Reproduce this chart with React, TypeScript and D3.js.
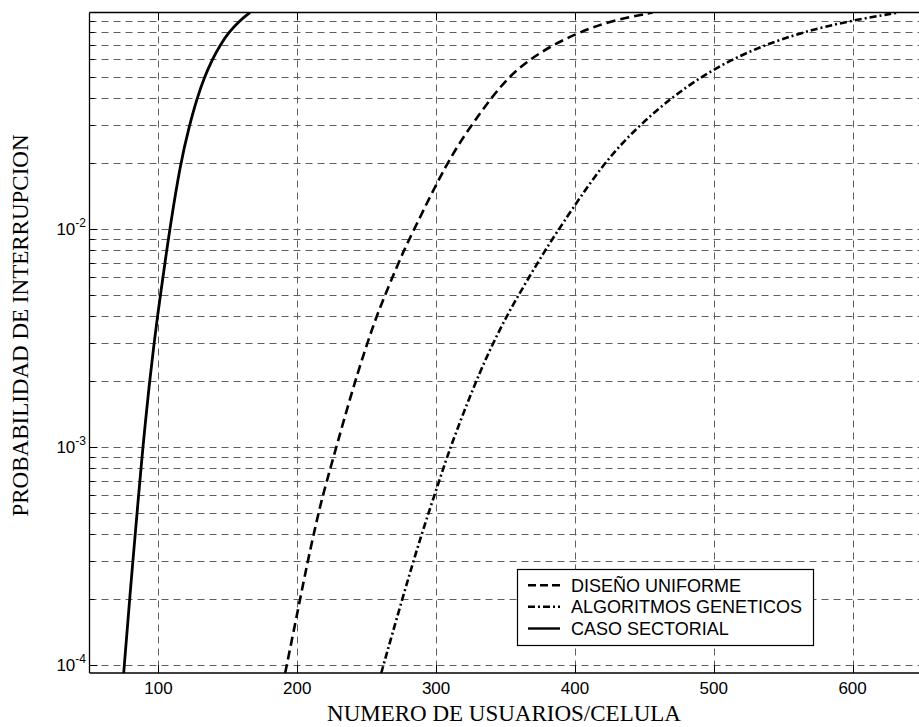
import React from "react";
import * as d3 from "d3";

const xTicks = [100, 200, 300, 400, 500, 600];
const yMajor = [1e-4, 1e-3, 1e-2];
const yExpLabels = ["-4", "-3", "-2"];

const sectorialX = [75, 79.2, 85.7, 88.8, 93.6, 96.9, 99.4, 101.5, 106, 108.2, 115.8, 122.4, 127.9, 133.3, 138.8, 144.5, 150.8, 158.2, 166];
const sectorialY = [9.2e-5, 2e-4, 6e-4, 1e-3, 2e-3, 3e-3, 4e-3, 5e-3, 8e-3, 1e-2, 2e-2, 3e-2, 4e-2, 5e-2, 6e-2, 7e-2, 8e-2, 9e-2, 0.0985];

const uniformeX = [191.3, 202, 207.6, 211.9, 215.4, 218.4, 228.1, 241.5, 250.5, 257.2, 266.5, 276.8, 284.3, 307.3, 325.4, 339.8, 352.5, 367.4, 384.2, 403.4, 425, 456];
const uniformeY = [9.2e-5, 2e-4, 3e-4, 4e-4, 5e-4, 6e-4, 1e-3, 2e-3, 3e-3, 4e-3, 5.6e-3, 8e-3, 1e-2, 2e-2, 3e-2, 4e-2, 5e-2, 6e-2, 7e-2, 8e-2, 9e-2, 0.0985];

const geneticosX = [260.5, 275.5, 289.5, 302.3, 310.2, 328.5, 341, 351, 359.5, 378.5, 388.5, 420, 446.5, 469.5, 491, 513, 537, 564, 597, 633];
const geneticosY = [9.2e-5, 2e-4, 4e-4, 7e-4, 1e-3, 2e-3, 3e-3, 4e-3, 5e-3, 8e-3, 1e-2, 2e-2, 3e-2, 4e-2, 5e-2, 6e-2, 7e-2, 8e-2, 9e-2, 0.0985];

const legendLabels = ["DISEÑO UNIFORME", "ALGORITMOS GENETICOS", "CASO SECTORIAL"];

const W = 919;
const H = 727;
const L = 89.5;
const T = 12.5;
const B = 673;
const R = 919;

export default function App() {
  const x = d3.scaleLinear().domain([50, 650]).range([89, 922]);
  const y = d3.scaleLog().domain([9.2e-5, 0.0985]).range([B, T]);

  const yGrid: number[] = [];
  for (let e = -4; e <= -2; e++) {
    for (let k = 1; k <= 9; k++) {
      const v = k * Math.pow(10, e);
      if (v >= 9.2e-5 && v <= 0.0985) yGrid.push(v);
    }
  }

  const line = d3
    .line<[number, number]>()
    .x((d) => x(d[0]))
    .y((d) => y(d[1]))
    .curve(d3.curveBasis);

  const series = [
    { xs: uniformeX, ys: uniformeY, dash: "9,5", w: 2.6 },
    { xs: geneticosX, ys: geneticosY, dash: "7,3,2,3", w: 2.6 },
    { xs: sectorialX, ys: sectorialY, dash: "none", w: 2.8 },
  ];

  const gridColor = "#5f5f5f";
  const sans = "'Liberation Sans', Arial, sans-serif";
  const serif = "'Liberation Serif', 'Times New Roman', serif";

  const legX = 517;
  const legY = 569;
  const legW = 296;
  const legH = 76;
  const rowBase = [591.7, 613.3, 635];

  return (
    <svg width={W} height={H} style={{ position: "absolute", left: 0, top: 0, background: "#fff" }}>
      <defs>
        <clipPath id="plotclip">
          <rect x={L} y={T} width={R - L} height={B - T} />
        </clipPath>
      </defs>
      <rect x={0} y={0} width={W} height={H} fill="#fff" />
      {/* grid */}
      <g stroke={gridColor} strokeWidth={1} strokeDasharray="7,5" fill="none">
        {yGrid.map((v, i) => (
          <line key={"gy" + i} x1={L} x2={R} y1={Math.round(y(v)) + 0.5} y2={Math.round(y(v)) + 0.5} />
        ))}
        {xTicks.map((v, i) => (
          <line key={"gx" + i} x1={Math.round(x(v)) + 0.5} x2={Math.round(x(v)) + 0.5} y1={T} y2={B} />
        ))}
      </g>
      {/* ticks */}
      <g stroke="#000" strokeWidth={1}>
        {xTicks.map((v, i) => (
          <g key={"tx" + i}>
            <line x1={Math.round(x(v)) + 0.5} x2={Math.round(x(v)) + 0.5} y1={B} y2={B - 8} />
            <line x1={Math.round(x(v)) + 0.5} x2={Math.round(x(v)) + 0.5} y1={T} y2={T + 8} />
          </g>
        ))}
        {yGrid.map((v, i) => (
          <line key={"ty" + i} x1={L} x2={L + (yMajor.includes(v) ? 8 : 5)} y1={Math.round(y(v)) + 0.5} y2={Math.round(y(v)) + 0.5} />
        ))}
      </g>
      {/* axes */}
      <g stroke="#000" strokeWidth={1.3} fill="none">
        <line x1={L} x2={R} y1={B} y2={B} />
        <line x1={L} x2={R} y1={T} y2={T} />
        <line x1={L} x2={L} y1={T} y2={B} />
      </g>
      {/* curves */}
      <g clipPath="url(#plotclip)" fill="none" stroke="#000">
        {series.map((s, i) => (
          <path
            key={"s" + i}
            d={line(s.xs.map((xv, j) => [xv, s.ys[j]] as [number, number])) || ""}
            strokeWidth={s.w}
            strokeDasharray={s.dash}
            strokeLinejoin="round"
          />
        ))}
      </g>
      {/* tick labels */}
      <g fontFamily={sans} fontSize={17} fill="#000">
        {xTicks.map((v, i) => (
          <text key={"lx" + i} x={x(v)} y={694} textAnchor="middle">
            {v}
          </text>
        ))}
        {yMajor.map((v, i) => (
          <text key={"ly" + i} x={86} y={y(v) + 6} textAnchor="end">
            <tspan>10</tspan>
            <tspan dy={-8} fontSize={12}>
              {yExpLabels[i]}
            </tspan>
          </text>
        ))}
      </g>
      {/* axis titles */}
      <text x={504} y={721} textAnchor="middle" fontFamily={serif} fontSize={23} fill="#000">
        NUMERO DE USUARIOS/CELULA
      </text>
      <text
        transform={`translate(28,325.5) rotate(-90)`}
        textAnchor="middle"
        fontFamily={serif}
        fontSize={23}
        fill="#000"
      >
        PROBABILIDAD DE INTERRUPCION
      </text>
      {/* legend */}
      <rect x={legX + 0.5} y={legY + 0.5} width={legW} height={legH} fill="#fff" stroke="#000" strokeWidth={1.2} />
      {legendLabels.map((lab, i) => (
        <g key={"lg" + i}>
          <line
            x1={528}
            x2={560}
            y1={rowBase[i] - 6.5}
            y2={rowBase[i] - 6.5}
            stroke="#000"
            strokeWidth={2.4}
            strokeDasharray={series[i].dash === "none" ? "none" : i === 0 ? "8,4" : "7,3,2,3"}
          />
          <text x={571} y={rowBase[i]} fontFamily={sans} fontSize={18} fill="#000">
            {lab}
          </text>
        </g>
      ))}
    </svg>
  );
}
